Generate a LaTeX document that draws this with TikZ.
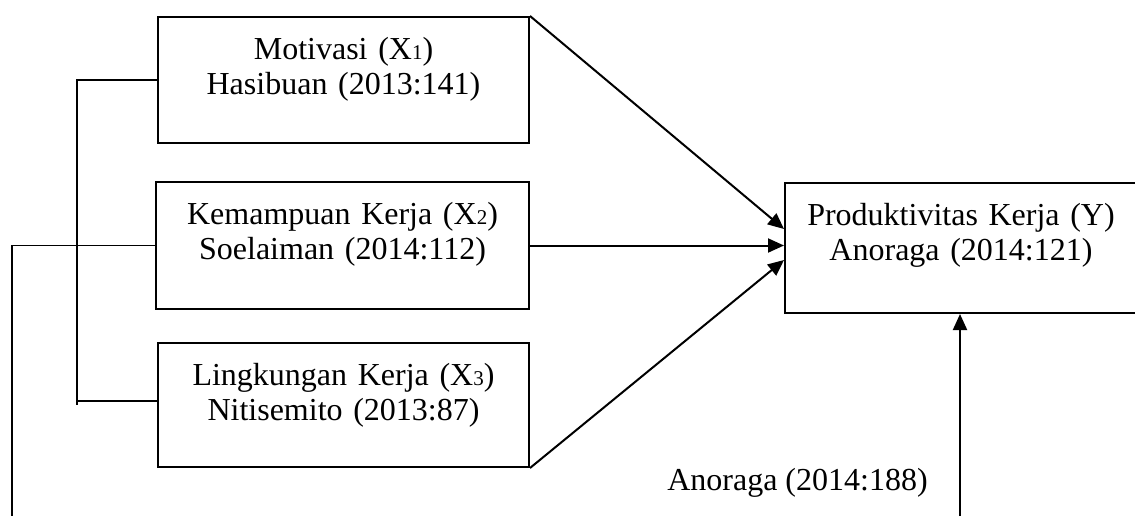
\documentclass[tikz,border=0pt]{standalone}
\usepackage{fontspec}
\setmainfont{Liberation Serif}
\usetikzlibrary{arrows.meta}
\newcommand{\idx}[1]{{\fontsize{10.5pt}{10.5pt}\selectfont #1}}

\begin{document}
\begin{tikzpicture}[x=.5pt, y=.5pt]
	% STYLES
	\tikzstyle{kotak} = [draw=black, line width=1pt, inner xsep=4pt, inner ysep=0pt, align=center, text height=21pt, font=\fontsize{16pt}{17.5pt}\selectfont]
	\tikzstyle{panah} = [line width=1pt, -{Triangle[length=8pt, width=7pt]}]
	\tikzstyle{garis} = [line width=.7pt]
	\tikzstyle{teks} = [font=\fontsize{16pt}{17.5pt}\selectfont, inner sep=0pt]

	\useasboundingbox (0, 0) rectangle (1135, 516);
	\clip (0, 0) rectangle (1135, 516);

	% KOTAK X
	% X1
	\node[kotak, text width=177.5pt, text depth=42pt] (motivasi) at (343.5, 436)
		{Motivasi (X\idx{1})\\Hasibuan (2013:141)};
	% X2
	\node[kotak, text width=178.5pt, text depth=42.5pt] (kemampuan) at (342.5, 270.5)
		{Kemampuan Kerja (X\idx{2})\\Soelaiman (2014:112)};
	% X3
	\node[kotak, text width=177.5pt, text depth=41pt] (lingkungan) at (343.5, 111)
		{Lingkungan Kerja (X\idx{3})\\Nitisemito (2013:87)};

	% KOTAK Y
	\node[kotak, anchor=west, align=left, text width=202pt, text depth=44pt] (produktivitas) at (784, 268)
		{\makebox[168pt]{Produktivitas Kerja (Y)}\\\makebox[168pt]{Anoraga (2014:121)}};

	% GARIS KIRI
	\draw[garis] (motivasi.west) -| ([xshift=-40pt]lingkungan.west);
	\draw[garis] ([yshift=2pt]lingkungan.west) -- ++(-80, 0);
	\coordinate (kiri) at (12, 0);
	\draw[garis] (kemampuan.west) -| (kiri);

	% PANAH
	\draw[panah] (motivasi.north east) -- ([yshift=9.5pt]produktivitas.west);
	\draw[panah] (kemampuan.east) -- (kemampuan.east -| produktivitas.west);
	\draw[panah] (lingkungan.south east) -- ([yshift=-6pt]produktivitas.west);

	% PANAH BAWAH
	\coordinate (dasar) at (960, 0);
	\draw[panah] (dasar) -- (dasar |- produktivitas.south);
	\node[teks] (sumber) at (797.5, 33) {Anoraga (2014:188)};
\end{tikzpicture}
\end{document}
